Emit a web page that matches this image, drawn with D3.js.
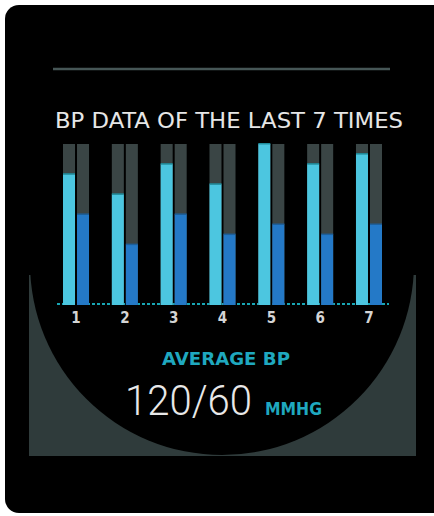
<!DOCTYPE html>
<html>
<head>
<meta charset="utf-8">
<script src="https://cdn.jsdelivr.net/npm/d3@7"></script>
<style>
  body { margin: 0; background: #fff; }
  svg { display: block; }
</style>
</head>
<body>
<div id="chart"></div>
<script>
const width = 434,
      height = 516;

// data
const times = ["1", "2", "3", "4", "5", "6", "7"];
const systolic = [130, 110, 140, 120, 160, 140, 150];
const diastolic = [90, 60, 90, 70, 80, 70, 80];
const series = ["sys", "dia"];
const yMax = 160;
const title = "BP DATA OF THE LAST 7 TIMES";
const avgLabel = "AVERAGE BP";
const avgValue = "120/60";
const avgUnit = "MMHG";

const colors = { sys: "#4cc6e0", dia: "#2479c7", track: "#3a4545" };
const narrow = "'Liberation Sans Narrow', 'DejaVu Sans Condensed', 'DejaVu Sans', sans-serif";

const rows = times.map((t, i) => ({ t: t, sys: systolic[i], dia: diastolic[i] }));

const svg = d3.select("#chart")
  .append("svg")
    .attr("width", width)
    .attr("height", height);

// device frame
svg.append("rect")
    .attr("x", 5).attr("y", 5)
    .attr("width", 445).attr("height", 508)
    .attr("rx", 14)
    .attr("fill", "#000");

// grey screen corners + round black face
svg.append("rect")
    .attr("x", 29).attr("y", 275)
    .attr("width", 387).attr("height", 181)
    .attr("fill", "#2f3b3b");

svg.append("clipPath").attr("id", "screen")
  .append("rect")
    .attr("x", 29).attr("y", 40)
    .attr("width", 387).attr("height", 416);

svg.append("circle")
    .attr("cx", 222).attr("cy", 263).attr("r", 192)
    .attr("fill", "#000")
    .attr("clip-path", "url(#screen)");

// separator
svg.append("line")
    .attr("x1", 53).attr("x2", 390)
    .attr("y1", 69).attr("y2", 69)
    .attr("stroke", "#465656")
    .attr("stroke-width", 2.5);

svg.append("text")
    .attr("x", 55).attr("y", 128)
    .attr("textLength", 348)
    .attr("lengthAdjust", "spacingAndGlyphs")
    .attr("fill", "#e6e6e6")
    .style("font-family", narrow)
    .style("font-size", "22px")
    .text(title);

const x = d3.scaleBand()
    .domain(times)
    .range([63, 382])
    .paddingInner(0.467)
    .paddingOuter(0);

const xs = d3.scaleBand()
    .domain(series)
    .range([0, x.bandwidth()])
    .paddingInner(0.143)
    .paddingOuter(0);

const y = d3.scaleLinear()
    .domain([0, yMax])
    .range([305, 144]);

// dotted baseline
svg.append("line")
    .attr("x1", 57).attr("x2", 389)
    .attr("y1", y(0) - 1).attr("y2", y(0) - 1)
    .attr("stroke", "#18a6b4")
    .attr("stroke-width", 2)
    .attr("stroke-dasharray", "3,2");

const groups = svg.append("g")
  .selectAll("g")
  .data(rows)
  .enter()
  .append("g")
    .attr("transform", d => `translate(${x(d.t)},0)`);

const bars = groups.selectAll("g")
  .data(d => series.map(k => ({ key: k, value: d[k] })))
  .enter()
  .append("g");

bars.append("rect")
    .attr("x", d => xs(d.key))
    .attr("y", y(yMax))
    .attr("width", xs.bandwidth())
    .attr("height", y(0) - y(yMax))
    .attr("fill", colors.track);

bars.append("rect")
    .attr("x", d => xs(d.key))
    .attr("y", d => y(d.value))
    .attr("width", xs.bandwidth())
    .attr("height", d => y(0) - y(d.value))
    .attr("fill", d => colors[d.key]);

// darker cap line on top of each value
bars.append("rect")
    .attr("x", d => xs(d.key))
    .attr("y", d => y(d.value) - 1)
    .attr("width", xs.bandwidth())
    .attr("height", 1.5)
    .attr("fill", d => d.key === "sys" ? "#1f8c9c" : "#1d5f9a");

// x axis labels
svg.append("g")
  .selectAll("text")
  .data(times)
  .enter()
  .append("text")
    .attr("x", d => x(d) + x.bandwidth() / 2)
    .attr("y", 323)
    .attr("text-anchor", "middle")
    .attr("fill", "#d4d4d4")
    .style("font-family", narrow)
    .style("font-weight", "bold")
    .style("font-size", "15px")
    .text(d => d);

svg.append("text")
    .attr("x", 162).attr("y", 365)
    .attr("textLength", 128)
    .attr("lengthAdjust", "spacingAndGlyphs")
    .attr("fill", "#1fa8bf")
    .style("font-family", narrow)
    .style("font-weight", "bold")
    .style("font-size", "17px")
    .text(avgLabel);

svg.append("text")
    .attr("x", 125).attr("y", 415)
    .attr("textLength", 127)
    .attr("lengthAdjust", "spacingAndGlyphs")
    .attr("fill", "#e8e8e8")
    .style("font-family", "Roboto, sans-serif")
    .style("font-weight", 300)
    .style("font-size", "42px")
    .text(avgValue);

svg.append("text")
    .attr("x", 265).attr("y", 415)
    .attr("textLength", 57)
    .attr("lengthAdjust", "spacingAndGlyphs")
    .attr("fill", "#1fa8bf")
    .style("font-family", narrow)
    .style("font-weight", "bold")
    .style("font-size", "17px")
    .text(avgUnit);
</script>
</body>
</html>
